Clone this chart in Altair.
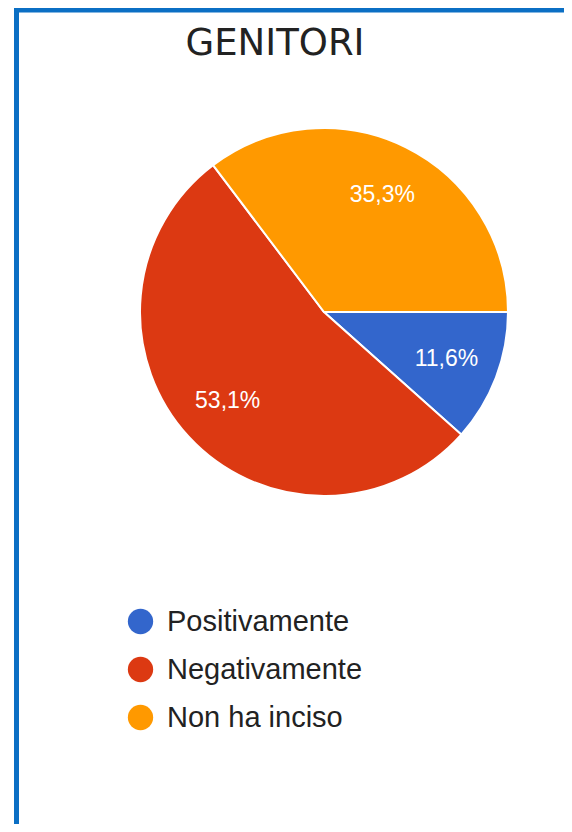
import math
import altair as alt
import pandas as pd

categories = ["Positivamente", "Negativamente", "Non ha inciso"]
values = [11.6, 53.1, 35.3]
labels = ["11,6%", "53,1%", "35,3%"]
colors = ["#3366cc", "#dc3912", "#ff9900"]
title_text = "GENITORI"

df = pd.DataFrame({
    "cat": categories,
    "val": values,
    "lab": labels,
    "idx": list(range(len(categories))),
})

W, H = 556, 816
CX, CY, R = 316, 304, 184
start = math.pi / 2

theta = alt.Theta("val:Q", stack=True,
                  scale=alt.Scale(range=[start, start + 2 * math.pi]))
color = alt.Color(
    "cat:N",
    scale=alt.Scale(domain=categories, range=colors),
    legend=alt.Legend(
        title=None, orient="none", legendX=118, legendY=599,
        symbolType="circle", symbolSize=640, symbolStrokeWidth=0,
        labelFontSize=29, labelFont="Liberation Sans", labelColor="#222222",
        labelOffset=12, rowPadding=18, padding=0, labelLimit=400,
    ),
)

base = alt.Chart(df)

pie = base.mark_arc(outerRadius=R, stroke="white", strokeWidth=2).encode(
    theta=theta,
    color=color,
    order=alt.Order("idx:Q"),
    x=alt.value(CX),
    y=alt.value(CY),
)

text = base.mark_text(radius=131, fontSize=23, font="Liberation Sans",
                      color="white").encode(
    theta=theta,
    order=alt.Order("idx:Q"),
    text="lab:N",
    x=alt.value(CX),
    y=alt.value(CY),
)

title = alt.Chart(pd.DataFrame({"t": [title_text]})).mark_text(
    fontSize=37, font="Comic Sans MS, DejaVu Sans", color="#222222",
    align="center", baseline="alphabetic",
).encode(text="t:N", x=alt.value(267), y=alt.value(47))

frame_color = "#0b6fc4"
top_rule = alt.Chart(pd.DataFrame({"a": [0]})).mark_rule(
    color=frame_color, strokeWidth=5
).encode(x=alt.value(6), x2=alt.value(W), y=alt.value(2))
left_rule = alt.Chart(pd.DataFrame({"a": [0]})).mark_rule(
    color=frame_color, strokeWidth=5
).encode(x=alt.value(8.5), y=alt.value(0), y2=alt.value(H))

chart = alt.layer(top_rule, left_rule, title, pie, text).properties(
    width=W, height=H, autosize=alt.AutoSizeParams(type="none"), padding=0,
).configure_view(stroke=None)

chart.save("out.html", embed_options={"renderer": "svg", "actions": False})
